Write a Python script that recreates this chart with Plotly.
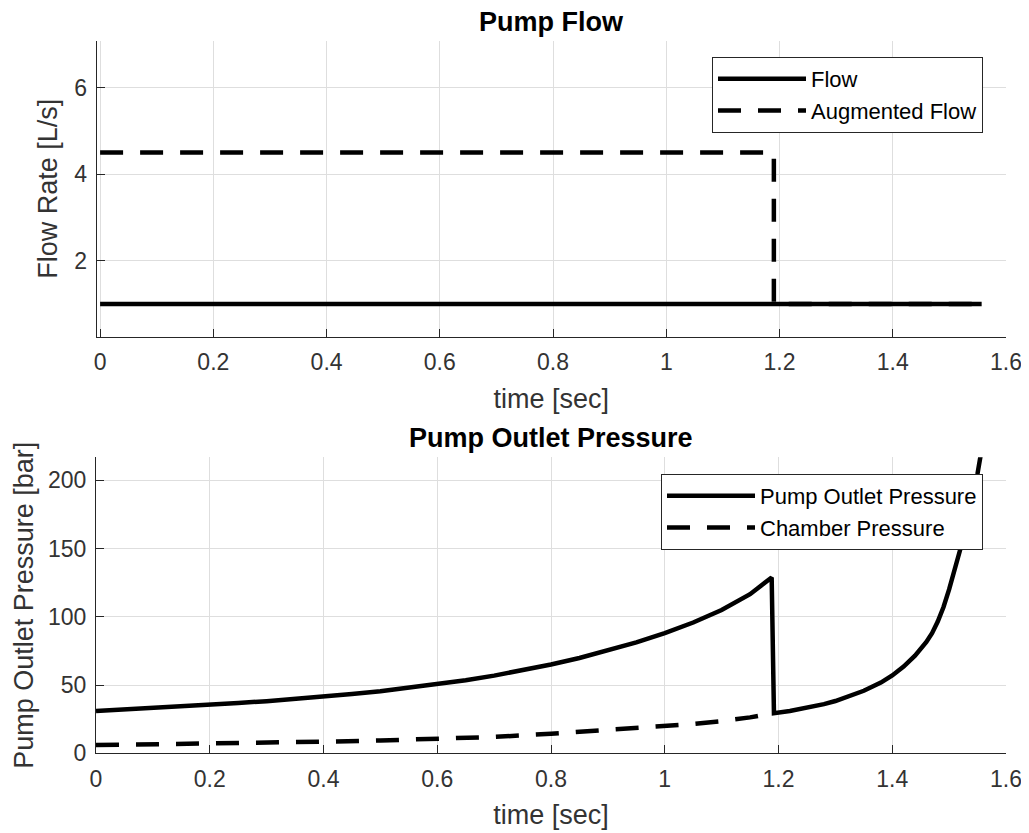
import plotly.graph_objects as go

# ---------------- data ----------------
time_flow = [0.0, 1.557]
flow = [1.0, 1.0]

time_aug = [0.0, 1.19, 1.19, 1.557]
aug_flow = [4.5, 4.5, 1.0, 1.0]

time_pump = [0.0, 0.05, 0.1, 0.15, 0.2, 0.25, 0.3, 0.35, 0.4, 0.45, 0.5, 0.55, 0.6, 0.65,
             0.7, 0.75, 0.8, 0.85, 0.9, 0.95, 1.0, 1.05, 1.1, 1.15, 1.188,
             1.192, 1.22, 1.25, 1.28, 1.3, 1.33, 1.35, 1.38, 1.4, 1.42, 1.44, 1.46, 1.47,
             1.48, 1.49, 1.5, 1.51, 1.52, 1.53, 1.54, 1.55, 1.557]
pump_pressure = [31.0, 32.0, 33.0, 34.2, 35.4, 36.8, 38.2, 39.8, 41.5, 43.4, 45.5, 47.9, 50.5, 53.5,
                 56.9, 60.7, 65.0, 69.8, 75.2, 81.2, 88.0, 95.8, 105.0, 116.5, 128.8,
                 29.4, 31.0, 33.2, 36.0, 38.3, 42.5, 45.8, 51.8, 57.0, 63.5, 71.5, 81.5, 88.0,
                 96.5, 107.0, 120.0, 134.0, 150.0, 167.0, 185.0, 205.0, 222.0]

time_chamber = [0.0, 0.1, 0.2, 0.3, 0.4, 0.5, 0.6, 0.7, 0.8, 0.9, 1.0, 1.05, 1.1, 1.15, 1.19]
chamber_pressure = [6.0, 6.5, 7.0, 7.7, 8.5, 9.4, 10.5, 12.0, 14.3, 16.9, 19.8, 21.5, 23.6, 26.3, 29.4]

x_ticks = [0, 0.2, 0.4, 0.6, 0.8, 1.0, 1.2, 1.4, 1.6]
x_tick_labels = ["0", "0.2", "0.4", "0.6", "0.8", "1", "1.2", "1.4", "1.6"]
flow_ticks = [2, 4, 6]
pressure_ticks = [0, 50, 100, 150, 200]

# ---------------- styling ----------------
OFF = 8                      # page body margin
W, H = 1029 - OFF, 833 - OFF
FONT = "Liberation Sans, Arial, Helvetica, sans-serif"
AX = "#262626"
TXT = "#333333"
GRID = "#dedede"
LW = 4.5
DASH = "23px,17px"
TICK_FS = 23
LABEL_FS = 27
LEG_FS = 22


def px(x):
    return (x - OFF) / W


def py(y):
    return 1 - (y - OFF) / H


fig = go.Figure()

fig.add_trace(go.Scatter(x=time_flow, y=flow, mode="lines", name="Flow",
                         line=dict(color="black", width=LW), xaxis="x", yaxis="y",
                         legend="legend"))
fig.add_trace(go.Scatter(x=time_aug, y=aug_flow, mode="lines", name="Augmented Flow",
                         line=dict(color="black", width=LW, dash=DASH), xaxis="x", yaxis="y",
                         legend="legend"))
fig.add_trace(go.Scatter(x=time_pump, y=pump_pressure, mode="lines", name="Pump Outlet Pressure",
                         line=dict(color="black", width=LW), xaxis="x2", yaxis="y2",
                         legend="legend2"))
fig.add_trace(go.Scatter(x=time_chamber, y=chamber_pressure, mode="lines", name="Chamber Pressure",
                         line=dict(color="black", width=LW, dash=DASH), xaxis="x2", yaxis="y2",
                         legend="legend2"))


def xaxis_common(domain, rng, anchor):
    return dict(domain=domain, range=rng, anchor=anchor,
                tickvals=x_ticks, ticktext=x_tick_labels,
                showgrid=True, gridcolor=GRID, gridwidth=1,
                showline=True, linecolor=AX, linewidth=1, mirror=False,
                ticks="inside", ticklen=8, tickcolor=AX, tickwidth=1,
                zeroline=False, automargin=False,
                tickfont=dict(family=FONT, size=TICK_FS, color=TXT),
                ticklabelstandoff=5,
                title=dict(text="time [sec]", standoff=14,
                           font=dict(family=FONT, size=LABEL_FS, color=TXT)))


def yaxis_common(domain, rng, anchor, vals, title, standoff):
    return dict(domain=domain, range=rng, anchor=anchor,
                tickvals=vals,
                showgrid=True, gridcolor=GRID, gridwidth=1,
                showline=True, linecolor=AX, linewidth=1, mirror=False,
                ticks="inside", ticklen=8, tickcolor=AX, tickwidth=1,
                zeroline=False, automargin=False,
                tickfont=dict(family=FONT, size=TICK_FS, color=TXT),
                ticklabelstandoff=4,
                title=dict(text=title, standoff=standoff,
                           font=dict(family=FONT, size=LABEL_FS, color=TXT)))


top_x = [px(96.7), px(1006)]
bot_x = [px(96.0), px(1006)]
top_y = [py(336.7), py(40.7)]
bot_y = [py(753.3), py(457.3)]

legend_style = dict(bgcolor="white", bordercolor=AX, borderwidth=1,
                    font=dict(family=FONT, size=LEG_FS, color="black"),
                    itemwidth=88, xanchor="right", yanchor="top",
                    tracegroupgap=0)

fig.update_layout(
    width=W, height=H,
    margin=dict(l=0, r=0, t=0, b=0),
    paper_bgcolor="white", plot_bgcolor="white",
    font=dict(family=FONT, color=AX),
    xaxis=xaxis_common(top_x, [-0.006, 1.6], "y"),
    yaxis=yaxis_common(top_y, [0.243, 7.087], "x", flow_ticks, "Flow Rate [L/s]", 8),
    xaxis2=xaxis_common(bot_x, [0, 1.6], "y2"),
    yaxis2=yaxis_common(bot_y, [0, 216.8], "x2", pressure_ticks, "Pump Outlet Pressure [bar]", 6),
    legend=dict(x=px(983), y=py(57), **legend_style),
    legend2=dict(x=px(983), y=py(474), **legend_style),
    showlegend=True,
    annotations=[
        dict(text="<b>Pump Flow</b>", x=px((96.7 + 1006) / 2), y=py(22),
             xref="paper", yref="paper", xanchor="center", yanchor="middle",
             showarrow=False, font=dict(family=FONT, size=LABEL_FS, color="black")),
        dict(text="<b>Pump Outlet Pressure</b>", x=px((96 + 1006) / 2), y=py(438),
             xref="paper", yref="paper", xanchor="center", yanchor="middle",
             showarrow=False, font=dict(family=FONT, size=LABEL_FS, color="black")),
    ],
)

fig.write_html("out.html")
